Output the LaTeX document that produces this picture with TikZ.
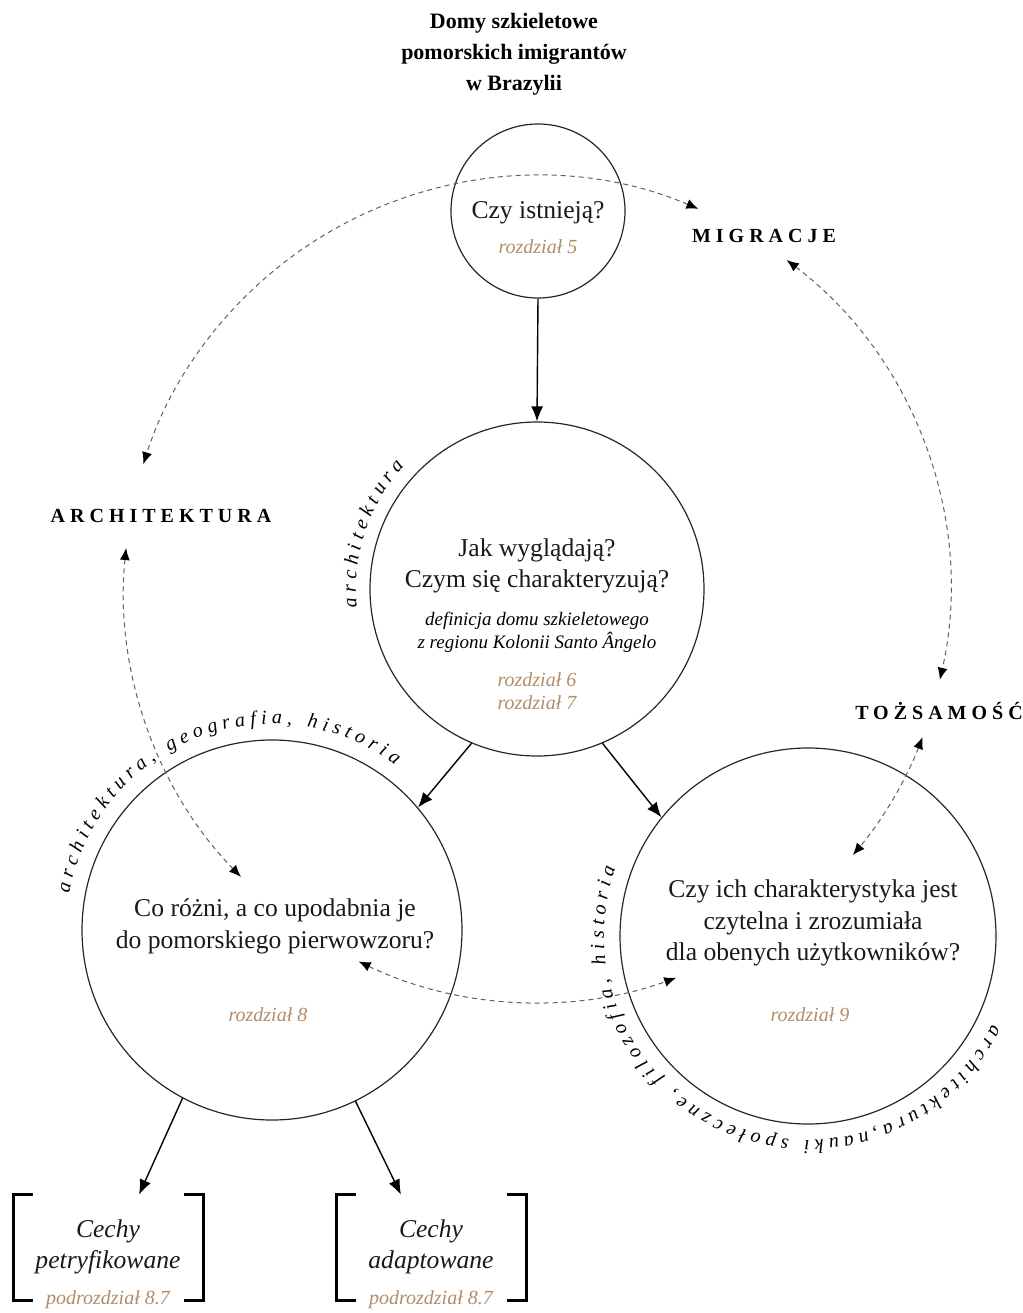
\documentclass[tikz,border=0pt]{standalone}
\usepackage{fontspec}
\setmainfont{Liberation Serif}
\newfontfamily\capsfont[LetterSpace=25]{Liberation Serif}
\usetikzlibrary{arrows.meta,decorations.text}
\definecolor{chapcol}{HTML}{B08D68}
\definecolor{dashcol}{HTML}{606060}
\newcommand{\arcstyle}{\fontsize{10}{12}\selectfont\itshape}
\begin{document}
\begin{tikzpicture}[x=0.5pt,y=0.5pt,
  bubble/.style={circle,draw=black!85,line width=0.6pt,inner sep=0pt},
  q/.style={font=\fontsize{12.8}{15.7}\selectfont,align=center,inner sep=0pt,text=black!90},
  chap/.style={font=\fontsize{10}{11.5}\selectfont\itshape,text=chapcol,align=center,inner sep=0pt},
  capslabel/.style={font=\capsfont\fontsize{10}{12}\selectfont\bfseries,inner sep=0pt},
  arr/.style={-{Latex[length=7.5pt,width=6pt]},line width=0.7pt},
  dasharr/.style={{Latex[length=6pt,width=5pt,color=black]}-{Latex[length=6pt,width=5pt,color=black]},dashcol,dash pattern=on 2.5pt off 2pt,line width=0.5pt},
  bracketbox/.style={minimum width=94.5pt,minimum height=52.5pt,inner sep=0pt},
  bracket/.style={line width=1.6pt,line cap=butt,line join=miter},
  curvetext/.style={decorate,decoration={text along path,text align=center,text={#1}}}
]
\useasboundingbox (0,0) rectangle (1023,-1313);

% title
\node[font=\fontsize{11}{15.5}\selectfont\bfseries,align=center,inner sep=0pt] (title) at (514,-54) {Domy szkieletowe\\pomorskich imigrantów\\w Brazylii};

% circles
\node[bubble,minimum size=87pt] (top) at (538,-211) {};
\node[bubble,minimum size=167pt] (mid) at (537,-589) {};
\node[bubble,minimum size=190pt] (left) at (272,-930) {};
\node[bubble,minimum size=188pt] (right) at (808,-936) {};

% circle texts
\node[q] (tq) at (538,-213) {Czy istnieją?};
\node[chap] (t5) at (538,-247) {rozdział 5};

\node[q] (tm) at (537,-566) {Jak wyglądają?\\Czym się charakteryzują?};
\node[font=\fontsize{9.5}{11.5}\selectfont\itshape,align=center,inner sep=0pt] (td) at (537,-632) {definicja domu szkieletowego\\z regionu Kolonii Santo Ângelo};
\node[chap] (t67) at (537,-691) {rozdział 6\\rozdział 7};

\node[q,font=\fontsize{12.8}{16}\selectfont] (tl) at (275,-926) {Co różni, a co upodabnia je\\do pomorskiego pierwowzoru?};
\node[chap] (t8) at (268,-1015) {rozdział 8};

\node[q] (tr) at (813,-923) {Czy ich charakterystyka jest\\czytelna i zrozumiała\\dla obenych użytkowników?};
\node[chap] (t9) at (810,-1015) {rozdział 9};

% labels
\node[capslabel] (migr) at (764,-236) {MIGRACJE};
\node[capslabel] (arch) at (161,-516) {ARCHITEKTURA};
\node[capslabel] (tozs) at (939,-711) {TOŻSAMOŚĆ};

% bracket boxes
\node[bracketbox] (pet) at (108.5,-1247.5) {};
\node[bracketbox] (ada) at (431.5,-1247.5) {};
\draw[bracket] ([xshift=9.5pt]pet.north west) -- (pet.north west) -- (pet.south west) -- ([xshift=9.5pt]pet.south west);
\draw[bracket] ([xshift=-9.5pt]pet.north east) -- (pet.north east) -- (pet.south east) -- ([xshift=-9.5pt]pet.south east);
\draw[bracket] ([xshift=9.5pt]ada.north west) -- (ada.north west) -- (ada.south west) -- ([xshift=9.5pt]ada.south west);
\draw[bracket] ([xshift=-9.5pt]ada.north east) -- (ada.north east) -- (ada.south east) -- ([xshift=-9.5pt]ada.south east);
\node[q,font=\fontsize{12.8}{15.5}\selectfont\itshape] (petT) at (108,-1247) {Cechy\\petryfikowane};
\node[chap] (petC) at (108,-1300) {podrozdział 8.7};
\node[q,font=\fontsize{12.8}{15.5}\selectfont\itshape] (adaT) at (431,-1247) {Cechy\\adaptowane};
\node[chap] (adaC) at (431,-1300) {podrozdział 8.7};

% solid arrows
\draw[arr] (top.south) -- (mid.north);
\draw[arr] (mid.247) -- (left.40);
\draw[arr] (mid.293) -- (right.141);
\draw[arr] (left.242) -- (pet.60);
\draw[arr] (left.296) -- (ada.120);

% dashed arcs
\draw[dasharr] ([shift={(67:413)}]mid.center) arc[start angle=67,end angle=162.4,radius=413];
\draw[dasharr] ([shift={(52.8:413)}]mid.center) arc[start angle=52.8,end angle=-12.7,radius=413];
\draw[dasharr] ([shift={(174.3:413)}]mid.center) arc[start angle=174.3,end angle=224.2,radius=413];
\draw[dasharr] ([shift={(-21:413)}]mid.center) arc[start angle=-21,end angle=-40.1,radius=413];
\draw[dasharr] ([shift={(244.4:413)}]mid.center) arc[start angle=244.4,end angle=289.7,radius=413];

% curved texts
\path[curvetext={|\arcstyle|a r c h i t e k t u r a}] ([shift={(221.5:181)}]mid.center) arc[start angle=221.5,end angle=101.5,radius=181];
\path[curvetext={|\arcstyle|a r c h i t e k t u r a , ^^^^2002g e o g r a f i a , ^^^^2002h i s t o r i a}] ([shift={(201.5:206)}]left.center) arc[start angle=201.5,end angle=21.5,radius=206];
\path[curvetext={|\arcstyle|a r c h i t e k t u r a , n a u k i ^^^^2002s p o ł e c z n e , ^^^^2002f i l o z o f i a , ^^^^2002h i s t o r i a}] ([shift={(7.5:204)}]right.center) arc[start angle=7.5,end angle=-232.5,radius=204];
\end{tikzpicture}
\end{document}
